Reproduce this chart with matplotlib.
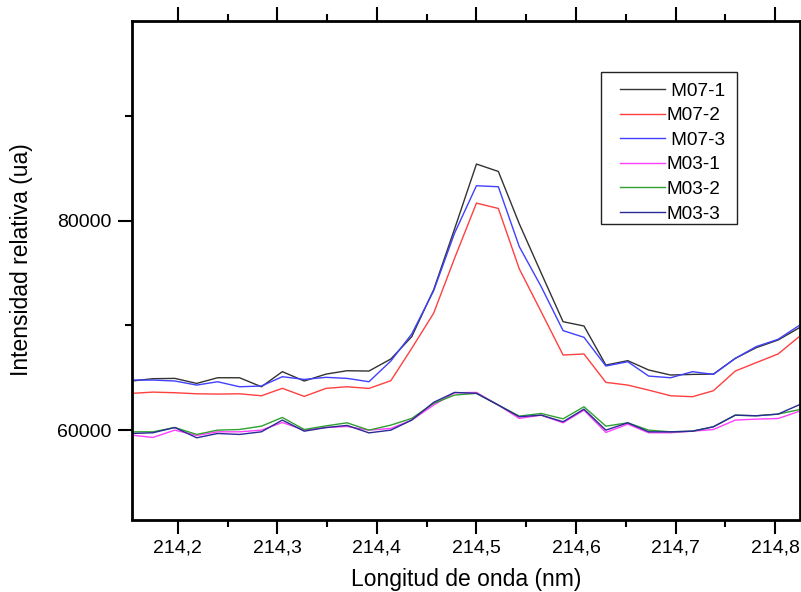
import numpy as np
import matplotlib
matplotlib.use("Agg")
import matplotlib.pyplot as plt
from matplotlib.patches import Rectangle
from matplotlib.ticker import MultipleLocator, FuncFormatter

plt.rcParams['font.family'] = ['Liberation Sans', 'DejaVu Sans']

# longitud de onda (nm)
wl = [214.154, 214.175, 214.197, 214.219, 214.240, 214.262, 214.284, 214.305,
      214.327, 214.349, 214.370, 214.392, 214.414, 214.435, 214.457, 214.478,
      214.500, 214.522, 214.543, 214.565, 214.587, 214.608, 214.630, 214.652,
      214.673, 214.695, 214.717, 214.738, 214.760, 214.781, 214.803, 214.825]

m07_1 = [64690, 64910, 64940, 64460, 65000, 65000, 64140, 65580, 64690, 65350,
         65670, 65640, 66790, 68920, 73400, 79200, 85400, 84690, 79700, 75000,
         70350, 69940, 66210, 66630, 65740, 65260, 65320, 65350, 66850, 67870,
         68600, 69810]
m07_2 = [63510, 63630, 63570, 63470, 63440, 63470, 63280, 63990, 63220, 63990,
         64140, 63980, 64720, 67810, 71160, 76400, 81670, 81160, 75400, 71300,
         67170, 67270, 64560, 64300, 63820, 63280, 63190, 63760, 65640, 66440,
         67270, 68990]
m07_3 = [64780, 64780, 64690, 64300, 64620, 64140, 64210, 65100, 64840, 65040,
         64940, 64620, 66600, 69180, 73300, 78800, 83330, 83230, 77520, 73700,
         69500, 68860, 66120, 66530, 65160, 65000, 65580, 65320, 66850, 67970,
         68670, 70040]
m03_1 = [59520, 59300, 60000, 59490, 59840, 59840, 60000, 60730, 60000, 60250,
         60350, 60000, 60160, 60960, 62390, 63570, 63600, 62390, 61120, 61430,
         60700, 61910, 59780, 60570, 59750, 59750, 59900, 60060, 60960, 61050,
         61110, 61820]
m03_2 = [59840, 59840, 60250, 59590, 60000, 60060, 60380, 61210, 60060, 60410,
         60700, 60000, 60480, 61120, 62550, 63350, 63510, 62390, 61340, 61590,
         61080, 62230, 60380, 60700, 60000, 59840, 59900, 60320, 61430, 61370,
         61530, 61970]
m03_3 = [59680, 59750, 60250, 59270, 59680, 59590, 59840, 60960, 59900, 60250,
         60450, 59740, 60000, 60960, 62650, 63600, 63510, 62390, 61280, 61430,
         60800, 62000, 60000, 60700, 59840, 59840, 59900, 60320, 61430, 61370,
         61530, 62450]

series = [(' M07-1', m07_1, '#333333'),
          ('M07-2', m07_2, '#ff4040'),
          (' M07-3', m07_3, '#4040ff'),
          ('M03-1', m03_1, '#ff40ff'),
          ('M03-2', m03_2, '#30a030'),
          ('M03-3', m03_3, '#2a2a96')]

fig = plt.figure(figsize=(8.01, 5.92), dpi=100)
ax = fig.add_axes([132 / 801, 72.5 / 592, 668 / 801, 499 / 592])

for name, vals, col in series:
    ax.plot(wl, vals, color=col, lw=1.0, label=name)

ax.set_xlim(wl[0], wl[-1])
ax.set_ylim(51470, 99100)

ax.xaxis.set_major_locator(MultipleLocator(0.1))
ax.xaxis.set_minor_locator(MultipleLocator(0.05))
ax.yaxis.set_major_locator(MultipleLocator(20000))
ax.yaxis.set_minor_locator(MultipleLocator(10000))
ax.xaxis.set_major_formatter(FuncFormatter(lambda v, p: f'{v:.1f}'.replace('.', ',')))
ax.yaxis.set_major_formatter(FuncFormatter(lambda v, p: f'{v:.0f}'))

for s in ax.spines.values():
    s.set_linewidth(2)
ax.tick_params(which='both', direction='out', width=1.5, top=True, right=False,
               labelsize=14, pad=4.5)
ax.tick_params(which='major', length=10)
ax.tick_params(which='minor', length=5)

ax.set_xlabel('Longitud de onda (nm)', fontsize=16.5)
ax.set_ylabel('Intensidad relativa (ua)', fontsize=16.5)
ax.xaxis.set_label_coords(0.5, -0.097)
ax.yaxis.set_label_coords(-0.148, 0.52)

# legend box drawn separately so the inner margins can differ
ax.add_patch(Rectangle((0.702, 0.5922), 0.2036, 0.3046, transform=ax.transAxes,
                       fill=True, facecolor='white', edgecolor='#222222',
                       lw=1.0, zorder=4))
leg = ax.legend(loc='upper left', bbox_to_anchor=(0.7305, 0.8758), borderaxespad=0,
                fontsize=13.7, handlelength=2.37, handletextpad=0.05,
                labelspacing=0.38, borderpad=0, frameon=False)
leg.set_zorder(5)

fig.savefig('out.png', dpi=100)
